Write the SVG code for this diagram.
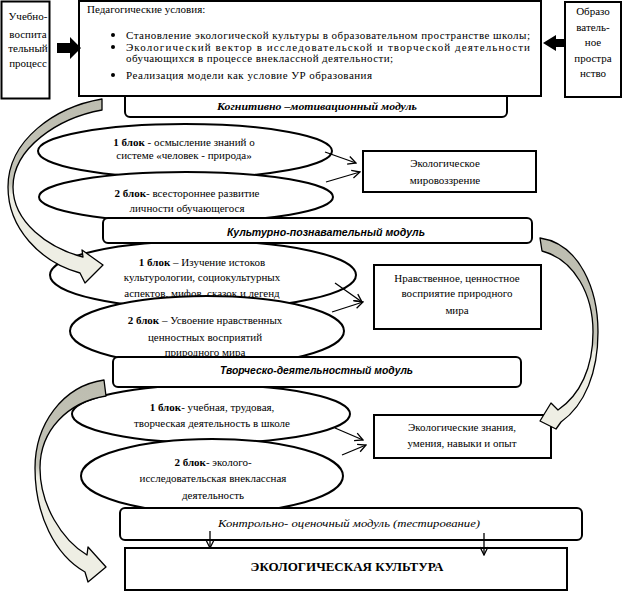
<svg xmlns="http://www.w3.org/2000/svg" width="624" height="593" viewBox="0 0 624 593">
<style>
.t{font-family:"Liberation Serif","Times New Roman",serif;font-size:11px;fill:#000}
.c{text-anchor:middle}
.b{font-weight:bold}
.mt{font-family:"Liberation Serif","Times New Roman",serif;font-size:11px;font-weight:bold;font-style:italic}
.ms{font-family:"Liberation Sans",Arial,sans-serif;font-size:10px;font-weight:bold;font-style:italic}
.box{fill:#fff;stroke:#000;stroke-width:2}
.mod{fill:#fff;stroke:#000;stroke-width:2}
.ell{fill:#fff;stroke:#000;stroke-width:2}
.con{fill:none;stroke:#000;stroke-width:1.3;marker-end:url(#ah)}
.curve{stroke:#000;stroke-width:1.3;stroke-linejoin:round}
</style>
<defs>
<marker id="ah" markerWidth="10" markerHeight="10" refX="9" refY="5" orient="auto" markerUnits="userSpaceOnUse">
<path d="M1,1 L9,5 L1,9" fill="none" stroke="#000" stroke-width="1.3"/>
</marker>
<linearGradient id="gA" gradientUnits="userSpaceOnUse" x1="0" y1="99" x2="0" y2="283">
<stop offset="0" stop-color="#bdbdb0"/><stop offset="0.46" stop-color="#c4c4b8"/><stop offset="0.52" stop-color="#eeeee4"/><stop offset="1" stop-color="#eeeee4"/>
</linearGradient>
<linearGradient id="gB" gradientUnits="userSpaceOnUse" x1="0" y1="238" x2="0" y2="429">
<stop offset="0" stop-color="#bdbdb0"/><stop offset="0.55" stop-color="#c4c4b8"/><stop offset="0.6" stop-color="#eeeee4"/><stop offset="1" stop-color="#eeeee4"/>
</linearGradient>
<linearGradient id="gC" gradientUnits="userSpaceOnUse" x1="0" y1="380" x2="0" y2="582">
<stop offset="0" stop-color="#bdbdb0"/><stop offset="0.42" stop-color="#c4c4b8"/><stop offset="0.48" stop-color="#eeeee4"/><stop offset="1" stop-color="#eeeee4"/>
</linearGradient>
</defs>
<rect width="624" height="593" fill="#fff"/>

<g id="mod-cognitive">
<rect class="mod" x="125" y="80" width="382" height="37" rx="5"/>
<text class="mt" x="217" y="110" textLength="200" lengthAdjust="spacingAndGlyphs">Когнитивно –мотивационный модуль</text>
</g>

<g id="ped-conditions">
<rect class="box" x="79" y="1" width="462" height="95"/>
<text class="t" x="87" y="13">Педагогические условия:</text>
<circle cx="113" cy="35" r="2"/>
<text class="t" x="126" y="39" textLength="404" lengthAdjust="spacing">Становление экологической культуры в образовательном пространстве школы;</text>
<circle cx="113" cy="47" r="2"/>
<text class="t" x="126" y="51" textLength="404" lengthAdjust="spacing">Экологический вектор в исследовательской и творческой деятельности</text>
<text class="t" x="126" y="62" textLength="267" lengthAdjust="spacing">обучающихся в процессе внеклассной деятельности;</text>
<circle cx="113" cy="75" r="2"/>
<text class="t" x="126" y="79" textLength="246" lengthAdjust="spacing">Реализация модели как условие УР образования</text>
</g>

<g id="edu-process">
<rect class="box" x="1.5" y="1.5" width="48" height="97"/>
<text class="t c" x="28" y="20">Учебно-</text>
<text class="t c" x="28" y="38">воспита</text>
<text class="t c" x="28" y="52">тельный</text>
<text class="t c" x="28" y="67">процесс</text>
</g>

<g id="edu-space">
<rect class="box" x="565" y="2" width="56" height="95"/>
<text class="t c" x="593" y="15">Образо</text>
<text class="t c" x="593" y="31">ватель-</text>
<text class="t c" x="593" y="46">ное</text>
<text class="t c" x="593" y="62">простра</text>
<text class="t c" x="593" y="77">нство</text>
</g>

<g id="e1">
<ellipse class="ell" cx="185" cy="151" rx="147" ry="27"/>
<text class="t c" x="184" y="146"><tspan class="b">1 блок</tspan> - осмысление знаний о</text>
<text class="t c" x="184" y="159">системе «человек - природа»</text>
</g>
<g id="e2">
<ellipse class="ell" cx="186" cy="197" rx="147" ry="25"/>
<text class="t c" x="187" y="197"><tspan class="b">2 блок</tspan>- всестороннее развитие</text>
<text class="t c" x="187" y="212">личности обучающегося</text>
</g>
<g id="e3">
<ellipse class="ell" cx="203" cy="275" rx="153" ry="34"/>
<text class="t c" x="202" y="266"><tspan class="b">1 блок</tspan> – Изучение истоков</text>
<text class="t c" x="202" y="281">культурологии, социокультурных</text>
<text class="t c" x="202" y="297">аспектов, мифов, сказок и легенд</text>
</g>
<g id="mod-cultural">
<rect class="mod" x="103" y="218" width="429" height="25" rx="5"/>
<text class="ms" x="227" y="236" textLength="198" lengthAdjust="spacingAndGlyphs">Культурно-познавательный  модуль</text>
</g>
<g id="e4">
<ellipse class="ell" cx="207" cy="331" rx="137" ry="35"/>
<text class="t c" x="205" y="324"><tspan class="b">2 блок</tspan> – Усвоение нравственных</text>
<text class="t c" x="205" y="341">ценностных восприятий</text>
<text class="t c" x="205" y="356">природного мира</text>
</g>
<g id="e5">
<ellipse class="ell" cx="211" cy="414" rx="139" ry="29"/>
<text class="t c" x="212" y="411"><tspan class="b">1 блок</tspan>- учебная, трудовая,</text>
<text class="t c" x="212" y="427">творческая деятельность в школе</text>
</g>
<g id="mod-creative">
<rect class="mod" x="113" y="357" width="408" height="30" rx="5"/>
<text class="ms" x="220" y="374" textLength="193" lengthAdjust="spacingAndGlyphs">Творческо-деятельностный модуль</text>
</g>
<g id="e6">
<ellipse class="ell" cx="212" cy="476" rx="131" ry="37"/>
<text class="t c" x="213" y="466"><tspan class="b">2 блок</tspan>- эколого-</text>
<text class="t c" x="213" y="482">исследовательская внеклассная</text>
<text class="t c" x="213" y="499">деятельность</text>
</g>
<g id="mod-control">
<rect class="mod" x="120" y="508" width="462" height="32" rx="5"/>
<text class="mt" x="218" y="527" font-weight="normal" style="font-weight:normal" textLength="262" lengthAdjust="spacingAndGlyphs">Контрольно- оценочный модуль (тестирование)</text>
</g>
<g id="eco-culture">
<rect class="box" x="125" y="548" width="442" height="42"/>
<text class="t c b" x="347" y="571" style="font-size:13px">ЭКОЛОГИЧЕСКАЯ КУЛЬТУРА</text>
</g>

<g id="r1">
<rect class="box" x="363" y="151" width="173" height="41"/>
<text class="t c" x="445" y="167">Экологическое</text>
<text class="t c" x="445" y="184">мировоззрение</text>
</g>
<g id="r2">
<rect class="box" x="374" y="265" width="167" height="64"/>
<text class="t c" x="457" y="282">Нравственное, ценностное</text>
<text class="t c" x="457" y="297">восприятие природного</text>
<text class="t c" x="457" y="314">мира</text>
</g>
<g id="r3">
<rect class="box" x="374" y="415" width="177" height="43"/>
<text class="t c" x="462" y="431">Экологические знания,</text>
<text class="t c" x="462" y="447">умения, навыки и опыт</text>
</g>

<g id="connectors">
<path d="M57,43 L70,43 L70,37 L81,48 L70,59 L70,53 L57,53 Z" fill="#000"/>
<path d="M565,39 L556,39 L556,35 L543,43 L556,51 L556,47 L565,47 Z" fill="#000"/>
<line class="con" x1="325" y1="152" x2="356" y2="163"/>
<line class="con" x1="326" y1="182" x2="360" y2="172"/>
<line class="con" x1="335" y1="283" x2="362" y2="302"/>
<line class="con" x1="332" y1="312" x2="363" y2="302"/>
<line class="con" x1="335" y1="428" x2="363" y2="440"/>
<line class="con" x1="342" y1="455" x2="366" y2="445"/>
<line class="con" x1="210" y1="531" x2="210" y2="548"/>
<line class="con" x1="484" y1="533" x2="484" y2="555"/>
<path class="curve" fill="url(#gA)" d="M102,99 C55,107 8,140 8,187 C8,228 40,262 80,273 L85,283 L103,265 L82,250 L83,257 C48,248 13,222 13,187 C13,148 58,118 102,110 Z"/>
<path class="curve" fill="url(#gB)" d="M540,238 C580,244 598,290 598,332 C598,372 585,405 561,422 L556,429 L540,421 L551,403 L558,410 C580,395 593,368 593,332 C593,295 575,260 542,251 Z"/>
<path class="curve" fill="url(#gC)" d="M104,380 C62,386 35,425 35,468 C35,515 55,555 85,572 L88,582 L106,567 L88,547 L87,555 C62,540 40,505 40,468 C40,430 68,402 106,396 Z"/>
</g>
</svg>
